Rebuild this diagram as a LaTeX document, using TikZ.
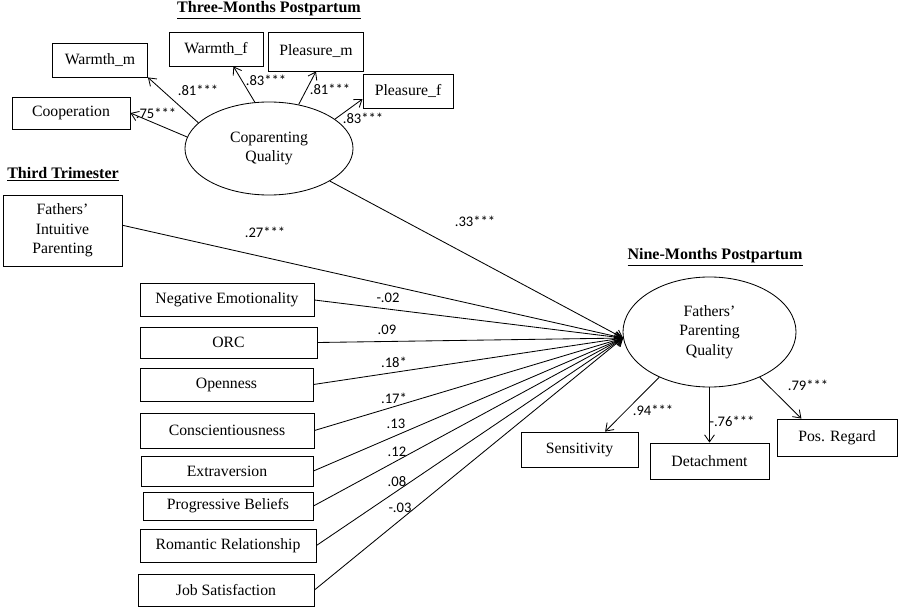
\documentclass[tikz,border=0pt]{standalone}
\usepackage{fontspec}
\setmainfont{Liberation Serif}
\newfontfamily\coeffont{Carlito}
\usetikzlibrary{shapes.geometric,arrows.meta}

\begin{document}
\begin{tikzpicture}[x=0.025cm,y=-0.025cm,
    box/.style={rectangle,draw,line width=0.6pt,inner sep=0pt,align=center,
      font=\fontsize{11.2}{13.8}\selectfont},
    latent/.style={ellipse,draw,line width=0.6pt,inner sep=0pt,align=center,
      font=\fontsize{11.2}{13.8}\selectfont},
    heading/.style={inner sep=0pt,font=\fontsize{11.4}{13}\selectfont\bfseries},
    coef/.style={inner sep=0pt,font=\coeffont\fontsize{10.4}{12}\selectfont},
    arr/.style={-{Straight Barb[length=5pt,width=7pt]},line width=0.6pt}]

        \useasboundingbox (0,0) rectangle (900,610);

        % three months postpartum
        \node[heading] (t-three) at (269,10) {\underline{Three-Months Postpartum}};
        \node[latent, minimum width = 4.2cm, minimum height = 2.325cm] (cq)
             at (269,148.5) {Coparenting\\Quality};
        \node[box, minimum width = 2.95cm, minimum height = 0.8cm] (coop)
             at (71,113) {Cooperation};
        \node[box, minimum width = 2.375cm, minimum height = 0.85cm] (warmm)
             at (100,60) {Warmth\_m};
        \node[box, minimum width = 2.35cm, minimum height = 0.85cm] (warmf)
             at (216,49) {Warmth\_f};
        \node[box, minimum width = 2.375cm, minimum height = 0.975cm] (pleasm)
             at (316,51.5) {Pleasure\_m};
        \node[box, minimum width = 2.25cm, minimum height = 0.85cm] (pleasf)
             at (408,91) {Pleasure\_f};

        \draw[arr] (cq.172) -- (coop.east);
        \draw[arr] (cq.160) -- (warmm.south east);
        \draw[arr] (cq.107) -- (warmf.-45);
        \draw[arr] (cq.56) -- (pleasm.south);
        \draw[arr] (cq.24) -- (pleasf.190);

        \node[coef] (l-coop) at (156,113) {.75***};
        \node[coef] (l-warmm) at (198,90) {.81***};
        \node[coef] (l-warmf) at (266,80) {.83***};
        \node[coef] (l-pleasm) at (330,89) {.81***};
        \node[coef] (l-pleasf) at (363,118) {.83***};

        % third trimester
        \node[heading] (t-third) at (63,174) {\underline{Third Trimester}};
        \node[box, minimum width = 2.975cm, minimum height = 1.775cm] (fip)
             at (62.5,230.5) {Fathers'\\Intuitive\\Parenting};
        \node[box, minimum width = 4.35cm, minimum height = 0.825cm] (negemo)
             at (227,300) {Negative Emotionality};
        \node[box, minimum width = 4.425cm, minimum height = 0.775cm] (orc)
             at (228.5,342.5) {ORC};
        \node[box, minimum width = 4.325cm, minimum height = 0.825cm] (open)
             at (226.5,384.5) {Openness};
        \node[box, minimum width = 4.35cm, minimum height = 0.875cm] (consc)
             at (227,430.5) {Conscientiousness};
        \node[box, minimum width = 4.3cm, minimum height = 0.75cm] (extra)
             at (227,471) {Extraversion};
        \node[box, minimum width = 4.25cm, minimum height = 0.7cm] (prog)
             at (228,506) {Progressive Beliefs};
        \node[box, minimum width = 4.4cm, minimum height = 0.825cm] (roman)
             at (228,545.5) {Romantic Relationship};
        \node[box, minimum width = 4.4cm, minimum height = 0.8cm] (job)
             at (226,590) {Job Satisfaction};

        % nine months postpartum
        \node[heading] (t-nine) at (715,257) {\underline{Nine-Months Postpartum}};
        \node[latent, minimum width = 4.325cm, minimum height = 2.75cm] (fpq)
             at (709.5,332) {Fathers'\\Parenting\\Quality};
        \node[box, minimum width = 2.925cm, minimum height = 0.875cm] (sens)
             at (579.5,449.5) {Sensitivity};
        \node[box, minimum width = 2.975cm, minimum height = 0.9cm] (det)
             at (709.5,461) {Detachment};
        \node[box, minimum width = 3cm, minimum height = 0.925cm] (preg)
             at (837,437.5) {Pos. Regard};

        \draw[arr] (fpq.222) -- (sens.35);
        \draw[arr] (fpq.south) -- (det.north);
        \draw[arr] (fpq.318) -- (preg.152);

        \node[coef] (l-sens) at (653,410) {.94***};
        \node[coef] (l-det) at (732,421) {-.76***};
        \node[coef] (l-preg) at (808,385) {.79***};

        % paths into fathers' parenting quality
        \draw[arr] (cq) -- (fpq.184);
        \draw[arr] (fip.5) -- (fpq.184);
        \draw[arr] (negemo.east) -- (fpq.184);
        \draw[arr] (orc.east) -- (fpq.184);
        \draw[arr] (open.east) -- (fpq.184);
        \draw[arr] (consc.east) -- (fpq.184);
        \draw[arr] (extra.east) -- (fpq.184);
        \draw[arr] (prog.east) -- (fpq.184);
        \draw[arr] (roman.east) -- (fpq.184);
        \draw[arr] (job.east) -- (fpq.184);

        \node[coef] (l-cq) at (475,221) {.33***};
        \node[coef] (l-fip) at (265,232) {.27***};
        \node[coef] (l-negemo) at (388,298) {-.02};
        \node[coef] (l-orc) at (387,330) {.09};
        \node[coef] (l-open) at (394,362) {.18*};
        \node[coef] (l-consc) at (394,398) {.17*};
        \node[coef] (l-extra) at (396,424) {.13};
        \node[coef] (l-prog) at (397,452) {.12};
        \node[coef] (l-roman) at (397,482) {.08};
        \node[coef] (l-job) at (400,508) {-.03};
\end{tikzpicture}
\end{document}
